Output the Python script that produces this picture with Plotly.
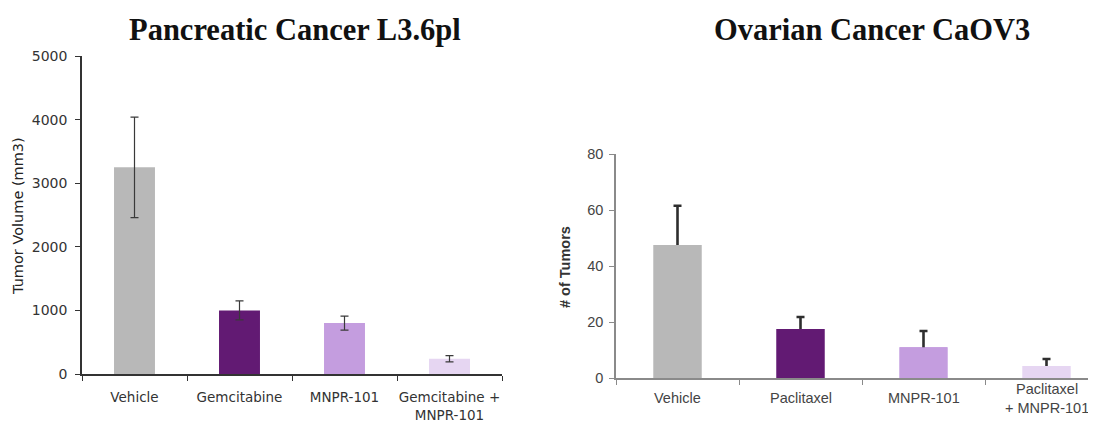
import plotly.graph_objects as go

# ---- data ----
panc_categories = ["Vehicle", "Gemcitabine", "MNPR-101", "Gemcitabine +<br>MNPR-101"]
panc_volume = [3250, 1000, 800, 240]
panc_err = [790, 150, 110, 50]

ov_categories = ["Vehicle", "Paclitaxel", "MNPR-101", "Paclitaxel<br>+ MNPR-101"]
ov_tumors = [47.5, 17.5, 11.0, 4.3]
ov_err = [14.0, 4.3, 5.8, 2.5]

colors = ["#b8b8b8", "#621a73", "#c49ddf", "#e6d6f2"]

W, H = 1096, 423
OX, OY = 8, 8  # page body margin offset


def px(x):
    return (x - OX) / W


def py(y):
    return 1 - (y - OY) / H


fig = go.Figure()

# left chart
fig.add_trace(go.Bar(
    x=panc_categories, y=panc_volume, xaxis="x", yaxis="y",
    marker=dict(color=colors, line=dict(width=0)),
    error_y=dict(type="data", array=panc_err, visible=True,
                 color="#3a3a3a", thickness=1.2, width=4),
    showlegend=False,
))

# right chart (upper-only error bars; duplicate bars hide the lower stub)
fig.add_trace(go.Bar(
    x=ov_categories, y=ov_tumors, xaxis="x2", yaxis="y2",
    marker=dict(color=colors, line=dict(width=0)),
    error_y=dict(type="data", symmetric=False, array=ov_err,
                 arrayminus=[v * 0.5 for v in ov_tumors], visible=True,
                 color="#2e2e2e", thickness=2.6, width=4),
    showlegend=False,
))
fig.add_trace(go.Bar(
    x=ov_categories, y=ov_tumors, xaxis="x2", yaxis="y2",
    marker=dict(color=colors, line=dict(width=0)),
    showlegend=False, hoverinfo="skip",
))

left_xfont = dict(family="DejaVu Sans", size=13.5, color="#333333")
left_yfont = dict(family="DejaVu Sans", size=14, color="#333333")
right_font = dict(family="Liberation Sans", size=14.5, color="#444444")

x2_len_px = W - (616 - OX)
x2_range_end = -0.5 + x2_len_px / 123

fig.update_layout(
    template="none",
    width=W, height=H, autosize=False,
    margin=dict(l=0, r=0, t=0, b=0, pad=0),
    paper_bgcolor="white", plot_bgcolor="white",
    barmode="overlay", bargap=0.61,
    xaxis=dict(domain=[px(82), px(502)], type="category", anchor="y",
               showline=True, linecolor="#333333", linewidth=1.5,
               ticks="outside", ticklen=5, tickcolor="#333333",
               tickson="boundaries", tickfont=left_xfont, tickangle=0,
               ticklabelstandoff=10,
               showgrid=False, zeroline=False, automargin=False,
               range=[-0.5, 3.5], fixedrange=True),
    yaxis=dict(domain=[py(374), py(56)], range=[0, 5000], anchor="x",
               tickvals=[0, 1000, 2000, 3000, 4000, 5000],
               showline=True, linecolor="#333333", linewidth=1.5,
               ticks="outside", ticklen=5, tickcolor="#333333",
               ticklabelstandoff=5,
               showgrid=False, zeroline=False, tickfont=left_yfont,
               automargin=False),
    xaxis2=dict(domain=[px(616), 1.0], type="category", anchor="y2",
                showline=True, linecolor="#8a8a8a", linewidth=1.5,
                ticks="outside", ticklen=5, tickcolor="#8a8a8a",
                tickson="boundaries", showticklabels=False,
                showgrid=False, zeroline=False, automargin=False,
                range=[-0.5, x2_range_end], fixedrange=True),
    yaxis2=dict(domain=[py(378), py(154)], range=[0, 80], anchor="x2",
                tickvals=[0, 20, 40, 60, 80],
                showline=True, linecolor="#8a8a8a", linewidth=1.5,
                ticks="outside", ticklen=5, tickcolor="#8a8a8a",
                ticklabelstandoff=3,
                showgrid=False, zeroline=False, tickfont=right_font,
                automargin=False),
)

annotations = [
    dict(text="<b>Pancreatic Cancer L3.6pl</b>", x=px(295), y=py(30),
         xanchor="center", yanchor="middle",
         xref="paper", yref="paper", showarrow=False,
         font=dict(family="Liberation Serif", size=30.5, color="#111111")),
    dict(text="<b>Ovarian Cancer CaOV3</b>", x=px(872), y=py(30),
         xanchor="center", yanchor="middle",
         xref="paper", yref="paper", showarrow=False,
         font=dict(family="Liberation Serif", size=30.5, color="#111111")),
    dict(text="Tumor Volume (mm3)", x=px(18), y=py(216), textangle=-90,
         xanchor="center", yanchor="middle",
         xref="paper", yref="paper", showarrow=False,
         font=dict(family="DejaVu Sans", size=14.5, color="#222222")),
    dict(text="<b># of Tumors</b>", x=px(565), y=py(267), textangle=-90,
         xanchor="center", yanchor="middle",
         xref="paper", yref="paper", showarrow=False,
         font=dict(family="Liberation Sans", size=14.5, color="#333333")),
]
for cat in ov_categories:
    annotations.append(dict(text=cat, x=cat, xref="x2", y=py(398),
                            yref="paper", showarrow=False, font=right_font,
                            xanchor="center", yanchor="middle"))
fig.update_layout(annotations=annotations)

fig.write_html("out.html")
